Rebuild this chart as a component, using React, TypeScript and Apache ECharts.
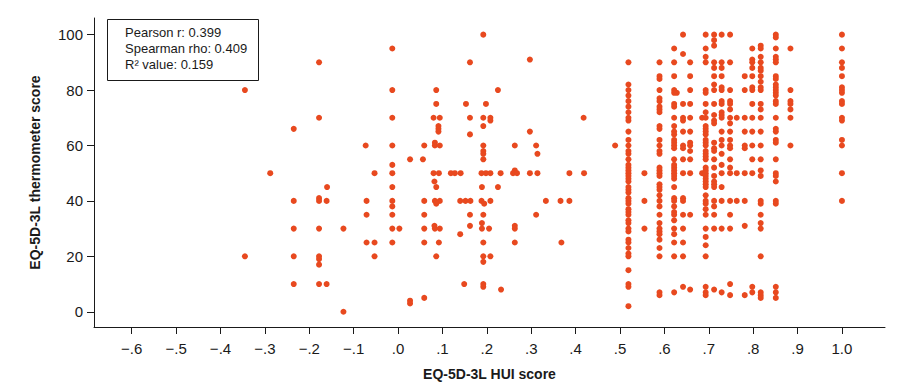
import React, { useEffect, useRef } from "react";
import * as echarts from "echarts";

// Scattered points (low HUI scores)
const leftHui = [
  -0.345, -0.345, -0.288, -0.235, -0.235, -0.235, -0.235, -0.235,
  -0.178, -0.178, -0.178, -0.178, -0.178, -0.178, -0.178, -0.178, -0.178,
  -0.16, -0.161, -0.161, -0.123, -0.123,
  -0.073, -0.071, -0.071, -0.071, -0.053, -0.053, -0.053,
  -0.013, -0.013, -0.013, -0.013, -0.013, -0.013, -0.013, -0.013, -0.013, -0.013, -0.013, -0.013,
  0.003, 0.027, 0.027, 0.027,
  0.192, 0.162, 0.297, 0.086, 0.225, 0.086, 0.153, 0.198, 0.08, 0.094, 0.162, 0.192, 0.208, 0.208,
  0.192, 0.091, 0.091, 0.091, 0.418, 0.297, 0.162, 0.059, 0.083, 0.083, 0.094, 0.192, 0.192, 0.192,
  0.192, 0.263, 0.311, 0.314, 0.056, 0.08, 0.092, 0.119, 0.128, 0.141, 0.188, 0.198, 0.208, 0.231,
  0.263, 0.259, 0.268, 0.297, 0.314, 0.386, 0.419, 0.082, 0.086, 0.189, 0.225, 0.059, 0.083, 0.094,
  0.086, 0.14, 0.152, 0.163, 0.188, 0.194, 0.208, 0.333, 0.366, 0.386, 0.059, 0.162, 0.192, 0.311,
  0.059, 0.082, 0.083, 0.094, 0.162, 0.189, 0.189, 0.205, 0.263, 0.263, 0.14, 0.059, 0.092, 0.192,
  0.263, 0.368, 0.086, 0.192, 0.208, 0.192, 0.149, 0.192, 0.192, 0.232, 0.059, 0.489, 0.628,
];
const leftThermo = [
  80, 20, 50, 66, 40, 30, 20, 10,
  90, 70, 41, 40, 30, 20, 19, 17, 10,
  45, 40, 10, 30, 0,
  60, 40, 35, 25, 50, 25, 20,
  95, 80, 70, 60, 53, 50, 45, 40, 38, 35, 30, 25,
  30, 55, 4, 3,
  100, 90, 91, 80, 80, 75, 75, 75, 70, 70, 70, 70, 70, 69,
  67, 67, 66, 65, 70, 65, 64, 60, 61, 60, 60, 60, 58, 57,
  55, 60, 60, 57, 55, 50, 50, 50, 50, 50, 50, 50, 50, 50,
  51, 50, 50, 50, 50, 50, 50, 47, 45, 45, 45, 40, 40, 40,
  39, 40, 40, 40, 40, 39, 40, 40, 40, 40, 35, 35, 35, 35,
  30, 31, 30, 30, 31, 32, 30, 30, 31, 30, 28, 25, 25, 25,
  25, 25, 20, 20, 20, 18, 10, 10, 9, 8, 5, 60, 79,
];

// Dense columns of HUI values
const columnHui = [
  0.519, 0.555, 0.589, 0.622, 0.642, 0.658, 0.685, 0.693, 0.712, 0.729,
  0.748, 0.763, 0.781, 0.798, 0.817, 0.851, 0.884, 1.0,
];
const columnThermo = [
  [90, 82, 80, 78, 76, 74, 72, 70, 69, 65, 62, 60, 58, 57, 55, 53, 52, 51, 50, 49, 48, 47, 45, 44, 43, 41, 40, 39, 37, 36, 35, 33, 32, 30, 29, 26, 25, 23, 21, 20, 15, 10, 9, 2],
  [50, 40, 30],
  [90, 85, 84, 80, 77, 76, 74, 73, 72, 67, 66, 62, 60, 58, 57, 52, 51, 50, 49, 46, 45, 44, 42, 40, 38, 35, 32, 30, 29, 28, 26, 23, 20, 7, 6],
  [95, 90, 85, 80, 79, 75, 74, 70, 67, 65, 64, 62, 61, 60, 59, 55, 53, 52, 51, 50, 49, 48, 45, 41, 40, 38, 36, 35, 33, 30, 28, 25, 20, 7],
  [100, 93, 75, 70, 69, 65, 60, 59, 55, 50, 41, 40, 35, 30, 25, 20, 9],
  [90, 85, 80, 75, 70, 65, 61, 60, 58, 55, 50, 35, 8],
  [70, 50],
  [100, 95, 92, 90, 80, 79, 75, 72, 70, 67, 66, 65, 64, 62, 61, 60, 58, 57, 56, 55, 52, 51, 50, 49, 48, 47, 46, 45, 42, 40, 39, 37, 35, 30, 27, 24, 20, 9, 7, 6],
  [100, 98, 96, 90, 88, 85, 82, 80, 75, 71, 69, 68, 61, 59, 58, 55, 52, 49, 47, 46, 45, 40, 38, 35, 30, 8],
  [100, 90, 88, 85, 81, 80, 76, 75, 72, 71, 70, 65, 62, 60, 57, 53, 50, 45, 40, 30, 7],
  [100, 90, 80, 76, 75, 73, 70, 68, 65, 62, 60, 59, 55, 52, 50, 40, 35, 30, 10, 6],
  [70, 50, 40],
  [85, 80, 70, 65, 60, 59, 50, 40, 31, 6],
  [95, 91, 90, 88, 85, 81, 80, 75, 70, 65, 60, 55, 50, 9, 7],
  [96, 95, 92, 90, 88, 87, 85, 83, 81, 80, 75, 73, 70, 65, 60, 55, 51, 49, 40, 39, 35, 32, 30, 20, 7, 6, 5],
  [100, 99, 95, 92, 91, 90, 85, 84, 82, 81, 80, 79, 78, 76, 75, 70, 66, 65, 62, 61, 55, 50, 49, 47, 40, 39, 9, 7, 5],
  [95, 80, 76, 75, 73, 70, 60],
  [100, 95, 90, 88, 85, 81, 80, 79, 76, 75, 70, 69, 62, 60, 50, 40],
];

const xTicks = [-0.6, -0.5, -0.4, -0.3, -0.2, -0.1, 0, 0.1, 0.2, 0.3, 0.4, 0.5, 0.6, 0.7, 0.8, 0.9, 1.0];
const yTicks = [0, 20, 40, 60, 80, 100];
const statLines = ["Pearson r: 0.399", "Spearman rho: 0.409", "R\u00b2 value: 0.159"];

const FONT = '"Liberation Sans", Arial, sans-serif';
const DOT = "#e8491f";
const INK = "#1a1a1a";

function fmtX(v: number): string {
  const r = Math.round(v * 10) / 10;
  if (Math.abs(r - 1) < 1e-9) return "1.0";
  const s = Math.abs(r).toFixed(1).replace(/^0/, "");
  return r < 0 ? "\u2212" + s : s;
}

export default function App() {
  const ref = useRef<HTMLDivElement>(null);
  useEffect(() => {
    if (!ref.current) return;
    const chart = echarts.init(ref.current, undefined, { renderer: "svg" });
    const data: number[][] = [];
    leftHui.forEach((x, i) => data.push([x, leftThermo[i]]));
    columnHui.forEach((x, i) => columnThermo[i].forEach((y) => data.push([x, y])));

    chart.setOption({
      animation: false,
      grid: { left: 94, right: 12, top: 18, bottom: 52 },
      xAxis: {
        type: "value",
        min: -0.685,
        max: 1.097,
        name: "EQ-5D-3L HUI score",
        nameLocation: "middle",
        nameGap: 40,
        nameTextStyle: { fontFamily: FONT, fontWeight: "bold", fontSize: 14, color: INK },
        axisLine: { show: true, onZero: false, lineStyle: { color: INK, width: 1 } },
        axisTick: { show: true, length: 7, customValues: xTicks, lineStyle: { color: INK } },
        axisLabel: {
          customValues: xTicks,
          formatter: (v: number) => fmtX(v),
          fontFamily: FONT,
          fontSize: 15,
          color: INK,
          margin: 14,
        },
        splitLine: { show: false },
      },
      yAxis: {
        type: "value",
        min: -5.5,
        max: 106,
        name: "EQ-5D-3L thermometer score",
        nameLocation: "middle",
        nameGap: 52,
        nameTextStyle: { fontFamily: FONT, fontWeight: "bold", fontSize: 14, color: INK },
        axisLine: { show: true, onZero: false, lineStyle: { color: INK, width: 1 } },
        axisTick: { show: true, length: 7, customValues: yTicks, lineStyle: { color: INK } },
        axisLabel: {
          customValues: yTicks,
          fontFamily: FONT,
          fontSize: 15,
          color: INK,
          margin: 11,
        },
        splitLine: { show: false },
      },
      series: [
        {
          type: "scatter",
          data,
          symbol: "circle",
          symbolSize: 6,
          itemStyle: { color: DOT, opacity: 1 },
        },
      ],
      graphic: [
        {
          type: "rect",
          shape: { x: 107.5, y: 19.5, width: 151, height: 61 },
          style: { fill: "#fff", stroke: INK, lineWidth: 1 },
          z: 10,
        },
        ...statLines.map((t, i) => ({
          type: "text",
          x: 125,
          y: 32 + i * 16,
          z: 11,
          style: {
            text: t,
            font: `13px ${FONT}`,
            fill: INK,
            verticalAlign: "middle",
          },
        })),
      ],
    });
    return () => chart.dispose();
  }, []);
  return (
    <div
      ref={ref}
      style={{ position: "absolute", left: 0, top: 0, width: 897, height: 386 }}
    />
  );
}
